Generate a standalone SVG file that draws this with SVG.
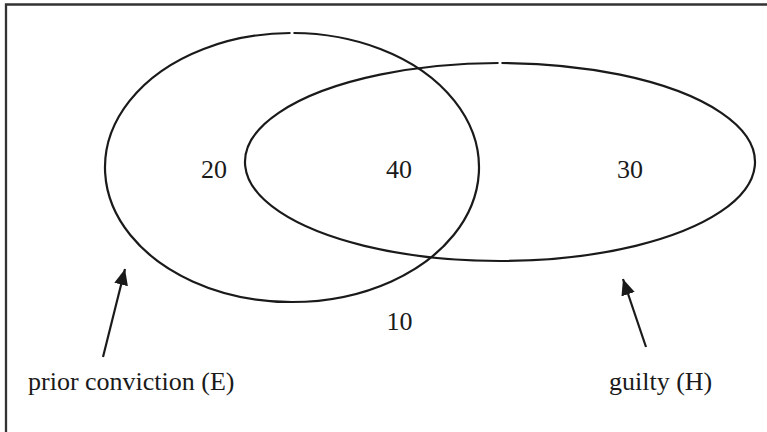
<svg xmlns="http://www.w3.org/2000/svg" width="767" height="432" viewBox="0 0 767 432">
<style>
.set{fill:none;stroke:#1a1a1a;stroke-width:2.2}
.lbl{font-family:"Liberation Serif","Times New Roman",serif;font-size:26px;fill:#1a1a1a}
.num{text-anchor:middle}
.arr{stroke:#1a1a1a;stroke-width:2.2;fill:none}
</style>
<defs>
<marker id="ah" markerUnits="userSpaceOnUse" markerWidth="18" markerHeight="16" refX="16" refY="7" orient="auto">
<path d="M0,0 L16,7 L0,14 Z" fill="#1a1a1a"/>
</marker>
</defs>
<rect width="767" height="432" fill="#fff"/>
<path d="M6,432 L6,4.5 L767,4.5" fill="none" stroke="#333" stroke-width="2.3"/>
<g id="setE">
<path class="set" d="M293.5,33 A187,134.5 0 1 1 290.5,33"/>
</g>
<g id="setH">
<path class="set" d="M501.5,63 A255,99 0 1 1 498.5,63"/>
</g>
<g id="regions">
<text class="lbl num" x="214" y="178">20</text>
<text class="lbl num" x="399" y="178">40</text>
<text class="lbl num" x="630" y="178">30</text>
<text class="lbl num" x="399.5" y="330">10</text>
</g>
<g id="labelE">
<text class="lbl" x="28" y="390">prior conviction (E)</text>
</g>
<g id="labelH">
<text class="lbl" x="609" y="390">guilty (H)</text>
</g>
<g id="connectors">
<line class="arr" x1="103" y1="357" x2="125" y2="269" marker-end="url(#ah)"/>
<line class="arr" x1="646" y1="347" x2="623" y2="279" marker-end="url(#ah)"/>
</g>
</svg>
